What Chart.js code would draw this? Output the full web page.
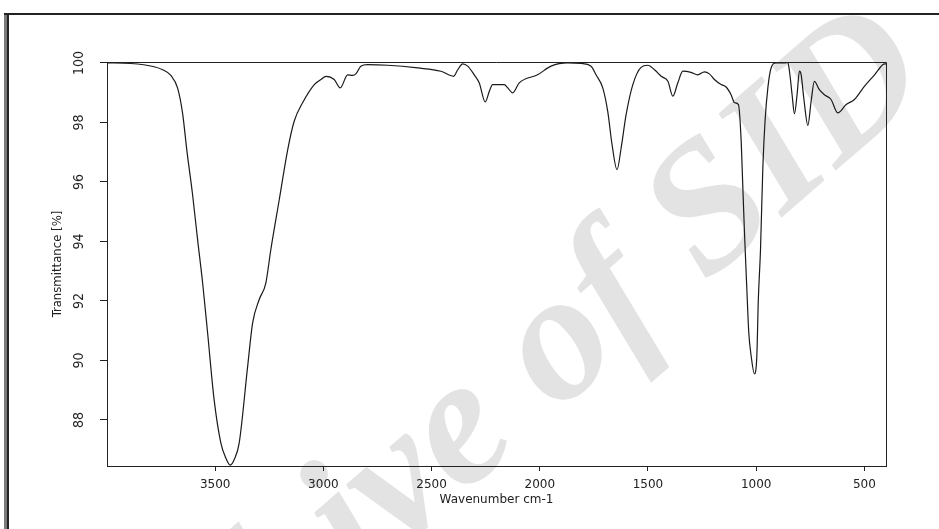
<!DOCTYPE html>
<html>
<head>
<meta charset="utf-8">
<script src="https://cdn.jsdelivr.net/npm/chart.js@4.4.1/dist/chart.umd.min.js"></script>
<style>
  body { margin: 0; background: #fff; }
  canvas { display: block; }
</style>
</head>
<body>
<canvas id="myChart" width="939" height="529"></canvas>
<script>
// IR spectrum
const wavenumbers = [
  4000, 3890, 3782, 3743, 3705, 3674, 3651, 3630, 3605, 3582, 3558, 3535, 3505, 3474, 3450, 3431,
  3410, 3389, 3350, 3327, 3297, 3266, 3243, 3204, 3165, 3135, 3096, 3042, 3011, 2988, 2950, 2922,
  2888, 2865, 2850, 2827, 2796, 2703, 2564, 2457, 2398, 2379, 2356, 2333, 2303, 2280, 2252, 2233,
  2218, 2164, 2148, 2125, 2095, 2010, 1948, 1871, 1809, 1763, 1740, 1709, 1686, 1666, 1643, 1624,
  1601, 1570, 1532, 1501, 1470, 1439, 1408, 1385, 1362, 1339, 1301, 1270, 1239, 1216, 1193, 1162,
  1139, 1116, 1100, 1082, 1070, 1062, 1054, 1043, 1034, 1023, 1008, 997, 990, 980, 969, 959,
  946, 931, 908, 869, 854, 846, 834, 823, 811, 800, 792, 780, 761, 746, 731, 708,
  685, 654, 623, 584, 546, 500, 453, 415, 400
];
const transmittance = [
  100.0, 99.98, 99.87, 99.77, 99.58, 99.16, 98.32, 97.0, 95.6, 94.1, 92.6, 90.92, 88.68, 87.23, 86.7, 86.48,
  86.7, 87.23, 89.8, 91.26, 92.04, 92.6, 93.72, 95.4, 97.08, 98.04, 98.66, 99.27, 99.44, 99.55, 99.44, 99.16,
  99.6, 99.58, 99.63, 99.89, 99.94, 99.92, 99.83, 99.72, 99.55, 99.77, 99.97, 99.89, 99.6, 99.33, 98.69, 99.05,
  99.27, 99.27, 99.16, 98.99, 99.33, 99.6, 99.89, 100.0, 99.98, 99.89, 99.6, 99.16, 98.37, 97.25, 96.41, 97.14,
  98.26, 99.27, 99.85, 99.92, 99.77, 99.55, 99.38, 98.88, 99.33, 99.72, 99.68, 99.6, 99.7, 99.63, 99.44, 99.27,
  99.19, 98.93, 98.66, 98.6, 97.48, 95.9, 94.29, 92.38, 90.92, 90.14, 89.55, 90.14, 92.04, 93.72, 96.52, 98.04,
  99.16, 99.83, 100.0, 100.0, 100.02, 99.72, 98.93, 98.29, 98.93, 99.72, 99.6, 98.82, 97.9, 98.71, 99.38, 99.1,
  98.93, 98.77, 98.32, 98.6, 98.77, 99.21, 99.6, 99.94, 99.97
];
const xTicks = [3500, 3000, 2500, 2000, 1500, 1000, 500];
const yTicks = [88, 90, 92, 94, 96, 98, 100];

const narrow = "'Liberation Sans Narrow', 'DejaVu Sans Condensed', 'Liberation Sans', sans-serif";
const wide = "'DejaVu Sans', sans-serif";

// watermark + page frame behind, box on top
const frame = {
  id: 'frame',
  beforeDraw(chart) {
    const c = chart.ctx;
    c.save();
    c.translate(77, 830);
    c.rotate(-41 * Math.PI / 180);
    c.font = 'italic bold 183px "Liberation Serif", serif';
    c.fillStyle = '#e3e3e3';
    c.textAlign = 'left';
    c.textBaseline = 'alphabetic';
    c.fillText('Archive of SID', 0, 0);
    c.restore();

    c.save();
    c.fillStyle = '#7a7a7a';
    c.fillRect(4, 13, 3, 516);
    c.fillStyle = '#222';
    c.fillRect(7, 13, 2, 516);
    c.fillRect(4, 13, 935, 2);
    c.restore();
  },
  afterDraw(chart) {
    const c = chart.ctx;
    const a = chart.chartArea;
    c.save();
    c.strokeStyle = '#222';
    c.lineWidth = 1;
    c.beginPath();
    c.moveTo(a.left, a.top + 0.5);
    c.lineTo(a.right + 0.5, a.top + 0.5);
    c.lineTo(a.right + 0.5, a.bottom);
    c.stroke();
    c.restore();
  }
};

const ctx = document.getElementById('myChart');
const grafico = new Chart(ctx, {
  type: 'line',
  data: {
    datasets: [{
      data: wavenumbers.map((w, i) => ({ x: w, y: transmittance[i] })),
      borderColor: '#1a1a1a',
      borderWidth: 1.2,
      pointRadius: 0,
      fill: false,
      cubicInterpolationMode: 'monotone'
    }]
  },
  options: {
    responsive: false,
    animation: false,
    devicePixelRatio: 1,
    layout: { padding: { left: 0, top: 62, right: 53, bottom: 0 } },
    plugins: { legend: { display: false }, tooltip: { enabled: false } },
    scales: {
      x: {
        type: 'linear',
        reverse: true,
        min: 400,
        max: 4000,
        afterBuildTicks: (axis) => { axis.ticks = xTicks.map(v => ({ value: v })); },
        afterFit: (axis) => { axis.height = 63; },
        border: { color: '#222', width: 1 },
        grid: { drawOnChartArea: false, tickLength: 5, color: '#222' },
        ticks: { color: '#222', font: { family: wide, size: 12 }, padding: 7, maxRotation: 0, autoSkip: false,
                 callback: (v) => String(v) },
        title: { display: true, text: 'Wavenumber cm-1', color: '#222', font: { family: wide, size: 12 }, padding: { top: 22, bottom: 22 } }
      },
      y: {
        min: 86.45,
        max: 100.03,
        afterBuildTicks: (axis) => { axis.ticks = yTicks.map(v => ({ value: v })); },
        afterFit: (axis) => { axis.width = 107; },
        border: { color: '#222', width: 1 },
        grid: { drawOnChartArea: false, tickLength: 7, color: '#222' },
        ticks: { color: '#222', font: { family: narrow, size: 14 }, padding: 9, minRotation: 90, maxRotation: 90, crossAlign: 'center', autoSkip: false,
                 callback: (v) => String(v) },
        title: { display: true, text: 'Transmittance [%]', color: '#222', font: { family: narrow, size: 13 }, padding: { top: 50, bottom: 50 } }
      }
    }
  },
  plugins: [frame]
});
</script>
</body>
</html>
